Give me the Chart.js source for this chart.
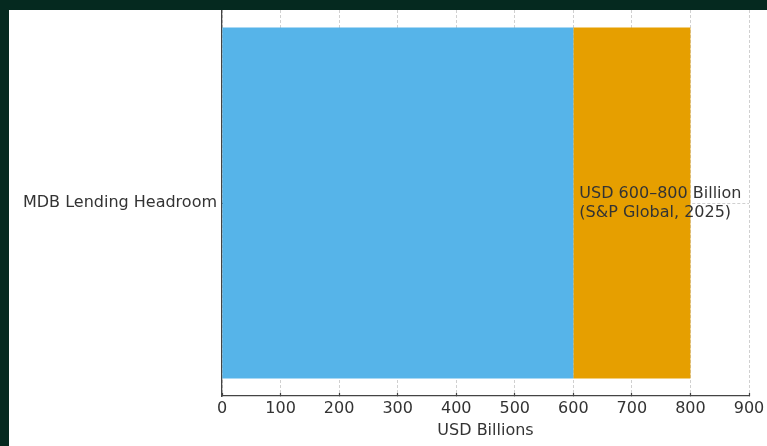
<!DOCTYPE html>
<html>
<head>
<meta charset="utf-8">
<script src="https://cdn.jsdelivr.net/npm/chart.js@4.4.1/dist/chart.umd.min.js"></script>
<style>
  html, body { margin: 0; padding: 0; background: #05291f; }
  body { width: 767px; height: 446px; position: relative; overflow: hidden; }
  #wrap { position: absolute; left: 9px; top: 10px; width: 758px; height: 436px; background: #ffffff; }
</style>
</head>
<body>
<div id="wrap"><canvas id="c"></canvas></div>
<script>
// Estimated MDB lending headroom range, USD billions
const categories = ['MDB Lending Headroom'];
const lowEstimate = [600];
const highEstimate = [800];
const xTicks = [0, 100, 200, 300, 400, 500, 600, 700, 800, 900];
const sourceNote = 'S&P Global, 2025';
const axisTitle = 'USD Billions';

const FONT = "'DejaVu Sans', sans-serif";
const TEXT = '#333333';
const SIZE = 16;

// Range annotation written next to the start of the upper segment
const rangeLabel = {
  id: 'rangeLabel',
  afterDatasetsDraw(chart) {
    const { ctx, scales } = chart;
    ctx.save();
    ctx.font = `${SIZE}px ${FONT}`;
    ctx.fillStyle = TEXT;
    ctx.textAlign = 'left';
    ctx.textBaseline = 'middle';
    categories.forEach((cat, i) => {
      const x = scales.x.getPixelForValue(lowEstimate[i]) + 6;
      const y = scales.y.getPixelForValue(i);
      ctx.fillText(`USD ${lowEstimate[i]}\u2013${highEstimate[i]} Billion`, x, y - 9);
      ctx.fillText(`(${sourceNote})`, x, y + 9.5);
    });
    ctx.restore();
  }
};

const gridStyle = {
  color: 'rgba(170,170,170,0.7)',
  lineWidth: 0.8,
  tickColor: '#444444',
  tickLength: -3,
  tickWidth: 1.2
};

new Chart(document.getElementById('c'), {
  type: 'bar',
  data: {
    labels: categories,
    datasets: [
      {
        label: 'Lower estimate',
        data: lowEstimate.map(v => [0, v]),
        backgroundColor: '#56B4E9',
        grouped: false,
        categoryPercentage: 1,
        barPercentage: 0.909
      },
      {
        label: 'Upper range',
        data: lowEstimate.map((v, i) => [v, highEstimate[i]]),
        backgroundColor: '#E69F00',
        grouped: false,
        categoryPercentage: 1,
        barPercentage: 0.909
      }
    ]
  },
  options: {
    indexAxis: 'y',
    responsive: true,
    maintainAspectRatio: false,
    devicePixelRatio: 1,
    animation: false,
    layout: { padding: { left: 0, right: 18, top: 0, bottom: 0 } },
    plugins: {
      legend: { display: false },
      tooltip: { enabled: false }
    },
    scales: {
      x: {
        type: 'linear',
        min: xTicks[0],
        max: xTicks[xTicks.length - 1],
        z: 1,
        afterBuildTicks(scale) { scale.ticks = xTicks.map(v => ({ value: v })); },
        afterFit(scale) {
          scale.height = 50;
          scale.paddingLeft = 0;
          scale.paddingRight = 0;
        },
        ticks: { color: TEXT, font: { family: FONT, size: SIZE }, padding: 6, maxRotation: 0 },
        grid: gridStyle,
        border: { display: true, color: '#444444', width: 1.3, dash: [3, 2] },
        title: { display: true, text: axisTitle, color: TEXT, font: { family: FONT, size: SIZE }, padding: { top: 0, bottom: 6 } }
      },
      y: {
        type: 'category',
        offset: true,
        z: 1,
        afterFit(scale) {
          scale.width = 213;
          scale.paddingTop = 0;
          scale.paddingBottom = 0;
        },
        ticks: { color: TEXT, font: { family: FONT, size: SIZE }, padding: 8 },
        grid: Object.assign({ offset: false }, gridStyle),
        border: { display: true, color: '#444444', width: 1.3, dash: [3, 2] }
      }
    }
  },
  plugins: [rangeLabel]
});
</script>
</body>
</html>
